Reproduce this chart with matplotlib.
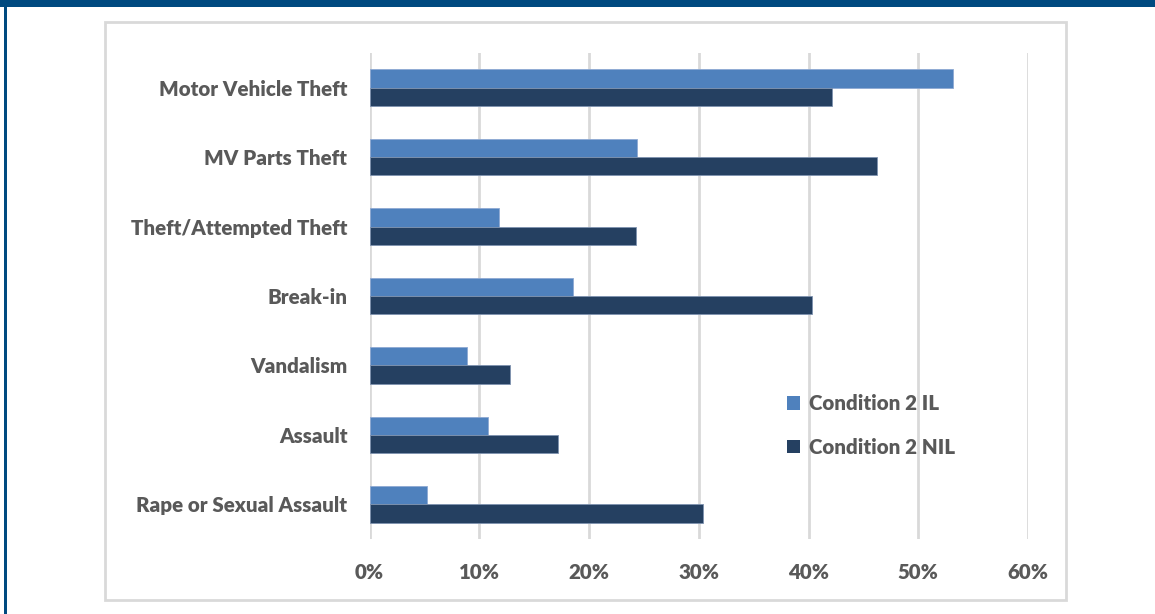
import numpy as np
import matplotlib.pyplot as plt
from matplotlib.patches import Rectangle, Patch

categories = ['Motor Vehicle Theft', 'MV Parts Theft', 'Theft/Attempted Theft',
              'Break-in', 'Vandalism', 'Assault', 'Rape or Sexual Assault']
il = [0.532, 0.244, 0.118, 0.185, 0.089, 0.108, 0.052]
nil = [0.421, 0.462, 0.243, 0.403, 0.128, 0.172, 0.304]
series = ['Condition 2 IL', 'Condition 2 NIL']
xticks = [0, 0.1, 0.2, 0.3, 0.4, 0.5, 0.6]
xlabels = ['0%', '10%', '20%', '30%', '40%', '50%', '60%']

c_il = '#4F81BD'
c_nil = '#254061'
grey_txt = '#595959'

plt.rcParams['font.family'] = ['Lato', 'DejaVu Sans']

fig = plt.figure(figsize=(11.55, 6.14), dpi=100)

# outer frame: dark blue top bar + left rule, grey chart box
fig.add_artist(Rectangle((0, 1 - 7/614), 1, 7/614, transform=fig.transFigure,
                         color='#004A80', lw=0))
fig.add_artist(Rectangle((4/1155, 0), 2.5/1155, 1, transform=fig.transFigure,
                         color='#004A80', lw=0))
fig.add_artist(Rectangle((105/1155, 1 - 600/614), 961/1155, 578/614,
                         transform=fig.transFigure, fill=False,
                         edgecolor='#D9D9D9', lw=2))

ax = fig.add_axes([369.5/1155, 75/614, 658.5/1155, 486/614])

y = np.arange(len(categories))
h = 0.264
ax.barh(y - h/2, il, height=h, color=c_il, edgecolor='#8EA9D3', linewidth=0.6,
        label=series[0], zorder=3)
ax.barh(y + h/2, nil, height=h, color=c_nil, edgecolor='#7F93B0', linewidth=0.6,
        label=series[1], zorder=3)

ax.set_xlim(0, 0.6)
ax.set_ylim(len(categories) - 0.5, -0.5)
ax.set_xticks(xticks)
ax.set_xticklabels(xlabels)
ax.set_yticks(y)
ax.set_yticklabels(categories)
ax.tick_params(length=0, labelsize=14.8, labelcolor=grey_txt)
ax.tick_params(axis='y', pad=16)
ax.tick_params(axis='x', pad=17)
for t in ax.get_xticklabels() + ax.get_yticklabels():
    t.set_fontweight('heavy')

ax.grid(axis='x', color='#D9D9D9', linewidth=2, zorder=0)
for s in ax.spines.values():
    s.set_visible(False)

handles = [Patch(facecolor=c_il), Patch(facecolor=c_nil)]
leg = ax.legend(handles, series, loc='upper left', bbox_to_anchor=(787/1155, 1 - 394/614),
                bbox_transform=fig.transFigure, frameon=False,
                handlelength=0.65, handleheight=0.65, handletextpad=0.4,
                labelspacing=1.2, borderaxespad=0, borderpad=0,
                prop={'size': 14.8, 'weight': 'heavy'})
for t in leg.get_texts():
    t.set_color(grey_txt)

fig.savefig('out.png', dpi=100)
